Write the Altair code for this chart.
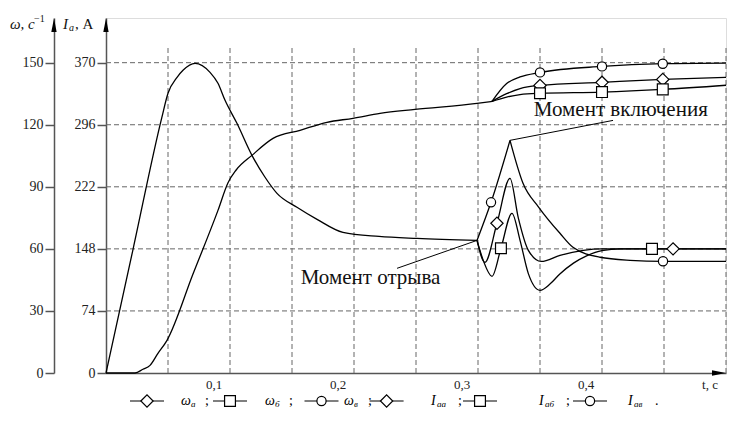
import altair as alt
import pandas as pd

# ---------------- axes ----------------
X_MAX = 0.5
W_MAX = 171.6
I_PER_W = 370 / 150
I_MAX = W_MAX * I_PER_W
GRID_TOP = 157.4

X_GRID = [0.05, 0.10, 0.15, 0.20, 0.25, 0.30, 0.35, 0.40, 0.45, 0.50]
X_TICKS = [0.1, 0.2, 0.3, 0.4, 0.5]
X_LABELS = ["0,1", "0,2", "0,3", "0,4", "t, с"]
W_TICKS = [0, 30, 60, 90, 120, 150]
I_TICKS = [0, 74, 148, 222, 296, 370]

# ---------------- speed ω, 1/s ----------------
T_W0 = [0, 0.0234, 0.0298, 0.0355, 0.0419, 0.0492, 0.07, 0.0903, 0.0984, 0.1048,
        0.1177, 0.1347, 0.1565, 0.1782, 0.1992, 0.221, 0.2492, 0.2992, 0.3113]
W0 = [0, 0, 1.8, 3.7, 9.5, 15.8, 47.6, 78.6, 92, 98,
      105.2, 113.4, 117.3, 121.2, 123.1, 125.5, 127.4, 130.3, 131.3]

T_WB = [0.3113, 0.3231, 0.3339, 0.35, 0.4, 0.449, 0.5]
W_A = [131.3, 135.0, 137.5, 139.0, 140.5, 141.9, 142.9]   # diamond
W_B = [131.3, 133.4, 134.6, 135.2, 135.8, 137.1, 139.1]   # square
W_V = [131.3, 139.9, 143.1, 145.3, 148.2, 149.5, 149.8]   # circle
T_W_MARK = [0.35, 0.4, 0.449]
W_A_MARK = [139.0, 140.5, 141.9]
W_B_MARK = [135.2, 135.8, 137.1]
W_V_MARK = [145.3, 148.2, 149.5]

# ---------------- current I, A ----------------
T_I0 = [0, 0.0218, 0.045, 0.05, 0.0573, 0.0621, 0.0718, 0.0839, 0.0903, 0.096,
        0.1056, 0.1177, 0.128, 0.1379, 0.154, 0.1702, 0.1911, 0.2202, 0.2508, 0.2992]
I0 = [0, 147.5, 304.5, 333.5, 352.5, 360.9, 369.2, 358.5, 345.4, 325.1,
      297.7, 259.5, 234, 214.2, 197.6, 183.2, 167.7, 162.9, 160.5, 158.1]

T_IA = [0.2992, 0.3056, 0.3153, 0.3258, 0.3325, 0.3406, 0.351, 0.3661, 0.385, 0.4, 0.5]
I_A = [158.1, 131.9, 178.5, 232.1, 185, 146.3, 133, 140.3, 146.3, 148, 148]   # diamond

T_IB = [0.2992, 0.3043, 0.3113, 0.3185, 0.3274, 0.3339, 0.3406, 0.35, 0.358, 0.366,
        0.377, 0.388, 0.4, 0.415, 0.5]
I_B = [158.1, 134, 115.3, 148.7, 190.4, 158.2, 118.5, 98.6, 106, 118,
       131, 140, 146, 148, 148]                                              # square

T_IV = [0.2992, 0.3105, 0.3258, 0.3363, 0.349, 0.3661, 0.3766, 0.3984, 0.4226, 0.4492, 0.5]
I_V = [158.1, 203.5, 277.4, 226.2, 197.6, 166.6, 149.9, 138, 134.4, 133.2, 133.2]  # circle

T_IA_MARK = [0.3153, 0.4573]
I_A_MARK = [178.5, 148]
T_IB_MARK = [0.3185, 0.4403]
I_B_MARK = [148.7, 148]
T_IV_MARK = [0.3105, 0.4492]
I_V_MARK = [203.5, 133.2]

# ---------------- text ----------------
ANN_TEXT = ["Момент включения", "Момент отрыва"]
LEG_MAIN = ["ω", "ω", "ω", "I", "I", "I"]
LEG_SUB = ["а", "б", "в", "аа", "аб", "ав"]
LEG_END = [";", ";", ";", ";", ";", "."]
LEG_KIND = ["а", "б", "в", "а", "б", "в"]

KINDS = ["а", "б", "в"]
SHAPES = ["diamond", "square", "circle"]
SIZES = [150, 85, 100]

FONT = "Liberation Serif"
AX = "#555555"

# ---------------- tables ----------------
def seg(t, v, name):
    return pd.DataFrame({"t": t, "v": v, "s": name})

w_lines = pd.concat([seg(T_W0, W0, "w0"), seg(T_WB, W_A, "wa"),
                     seg(T_WB, W_B, "wb"), seg(T_WB, W_V, "wv")])
kpk = I_V.index(max(I_V))
i_lines = pd.concat([seg(T_I0, I0, "i0"), seg(T_IA, I_A, "ia"), seg(T_IB, I_B, "ib"),
                     seg(T_IV[:kpk + 1], I_V[:kpk + 1], "iv1"),
                     seg(T_IV[kpk:], I_V[kpk:], "iv2")])

w_marks = pd.concat([pd.DataFrame({"t": T_W_MARK, "v": m, "k": k})
                     for m, k in zip([W_A_MARK, W_B_MARK, W_V_MARK], KINDS)])
i_marks = pd.concat([pd.DataFrame({"t": t, "v": m, "k": k})
                     for t, m, k in zip([T_IA_MARK, T_IB_MARK, T_IV_MARK],
                                        [I_A_MARK, I_B_MARK, I_V_MARK], KINDS)])

xs = alt.Scale(domain=[0, X_MAX], nice=False, zero=False)
ws = alt.Scale(domain=[0, W_MAX], nice=False, zero=False)
iss = alt.Scale(domain=[0, I_MAX], nice=False, zero=False)
shape_sc = alt.Scale(domain=KINDS, range=SHAPES)
size_sc = alt.Scale(domain=KINDS, range=SIZES)

x_axis = alt.Axis(values=X_TICKS, labels=False, grid=False, ticks=False,
                  domainColor=AX, domainWidth=1.5, title=None)

def y_axis(values, offset):
    return alt.Axis(orient="left", offset=offset, values=values, grid=False, tickSize=9,
                    tickColor=AX, tickWidth=1.5, domainColor=AX, domainWidth=1.5,
                    labelFont=FONT, labelFontSize=14, labelColor="#222", labelPadding=2,
                    title=None, labelFlush=False)

# vertical grid (carries the x axis)
vgrid = alt.Chart(pd.DataFrame({"t": X_GRID, "y0": 0, "y1": GRID_TOP})).mark_rule(
    color="#666", strokeDash=[5, 3], strokeWidth=1).encode(
    x=alt.X("t:Q", scale=xs, axis=x_axis),
    y=alt.Y("y0:Q", scale=ws, axis=None), y2="y1:Q")

# x tick labels
x_lab = alt.Chart(pd.DataFrame({"t": X_TICKS, "lab": X_LABELS})).mark_text(
    font=FONT, fontSize=13, color="#222", align="center", baseline="middle", dx=-16).encode(
    x=alt.X("t:Q", scale=xs), y=alt.value(367), text="lab:N")

# horizontal grid (carries the ω axis)
hgrid = alt.Chart(pd.DataFrame({"w": W_TICKS[1:], "t0": 0, "t1": X_MAX})).mark_rule(
    color="#666", strokeDash=[5, 3], strokeWidth=1).encode(
    x=alt.X("t0:Q", scale=xs), x2="t1:Q",
    y=alt.Y("w:Q", scale=ws, axis=y_axis(W_TICKS, 52)))

# I axis
i_axis_layer = alt.Chart(pd.DataFrame({"i": I_TICKS})).mark_point(opacity=0).encode(
    x=alt.value(0),
    y=alt.Y("i:Q", scale=iss, axis=y_axis(I_TICKS, 0)))

w_line = alt.Chart(w_lines).mark_line(color="black", strokeWidth=1.3,
                                      interpolate="monotone").encode(
    x=alt.X("t:Q", scale=xs), y=alt.Y("v:Q", scale=ws, axis=None), detail="s:N")
i_line = alt.Chart(i_lines).mark_line(color="black", strokeWidth=1.3,
                                      interpolate="monotone").encode(
    x=alt.X("t:Q", scale=xs), y=alt.Y("v:Q", scale=iss, axis=None), detail="s:N")

pt = dict(filled=True, fill="white", stroke="black", strokeWidth=1.2, opacity=1)
w_pts = alt.Chart(w_marks).mark_point(**pt).encode(
    x=alt.X("t:Q", scale=xs), y=alt.Y("v:Q", scale=ws, axis=None),
    shape=alt.Shape("k:N", scale=shape_sc, legend=None),
    size=alt.Size("k:N", scale=size_sc, legend=None))
i_pts = alt.Chart(i_marks).mark_point(**pt).encode(
    x=alt.X("t:Q", scale=xs), y=alt.Y("v:Q", scale=iss, axis=None),
    shape=alt.Shape("k:N", scale=shape_sc, legend=None),
    size=alt.Size("k:N", scale=size_sc, legend=None))

# annotations (ω units)
peak_t, peak_w = T_IV[kpk], I_V[kpk] / I_PER_W
kink_t, kink_w = T_I0[-1], I0[-1] / I_PER_W
ann_lines = pd.DataFrame({"t": [0.4089, 0.2347], "w": [122.1, 50.6],
                          "t2": [peak_t, kink_t], "w2": [peak_w, kink_w]})
ann_l = alt.Chart(ann_lines).mark_rule(color="black", strokeWidth=1).encode(
    x=alt.X("t:Q", scale=xs), x2="t2:Q", y=alt.Y("w:Q", scale=ws, axis=None), y2="w2:Q")
ann_txt = alt.Chart(pd.DataFrame({"t": [0.345, 0.157], "w": [127, 45.8],
                                  "txt": ANN_TEXT})).mark_text(
    font=FONT, fontSize=21, align="left", baseline="middle", color="#111").encode(
    x=alt.X("t:Q", scale=xs), y=alt.Y("w:Q", scale=ws, axis=None), text="txt:N")

# legend (pixel layout relative to the plot)
LEG_Y = 383
mk_x = [41, 124, 215.5, 280.6, 374, 484]
lb_x = [75, 159, 238, 325, 433, 522]
leg = pd.DataFrame({"mx": mk_x, "lx": lb_x, "main": LEG_MAIN, "sub": LEG_SUB,
                    "end": LEG_END, "k": LEG_KIND})
leg["x1"] = leg["mx"] - 17
leg["x2"] = leg["mx"] + 17
leg["sx"] = leg["lx"] + [10 if m == "ω" else 6 for m in LEG_MAIN]
leg["ex"] = leg["lx"] + [24 if m == "ω" else 27 for m in LEG_MAIN]
lb = alt.Chart(leg)
leg_rule = lb.mark_rule(color="black", strokeWidth=1.2).encode(
    x=alt.X("x1:Q", scale=None), x2="x2:Q", y=alt.value(LEG_Y))
leg_pt = lb.mark_point(**pt).encode(
    x=alt.X("mx:Q", scale=None), y=alt.value(LEG_Y),
    shape=alt.Shape("k:N", scale=shape_sc, legend=None),
    size=alt.Size("k:N", scale=size_sc, legend=None))
leg_main = lb.mark_text(font=FONT, fontSize=14, fontStyle="italic", align="left",
                        baseline="middle").encode(
    x=alt.X("lx:Q", scale=None), y=alt.value(LEG_Y), text="main:N")
leg_sub = lb.mark_text(font=FONT, fontSize=9, fontStyle="italic", align="left",
                       baseline="middle").encode(
    x=alt.X("sx:Q", scale=None), y=alt.value(LEG_Y + 3), text="sub:N")
leg_end = lb.mark_text(font=FONT, fontSize=14, align="left", baseline="middle").encode(
    x=alt.X("ex:Q", scale=None), y=alt.value(LEG_Y), text="end:N")

# axis titles (pixel layout)
TITLE_PARTS = [("ω, с", -96, 6, 15, "italic"), ("−1", -72, 1, 10, "normal"),
               ("I", -43, 6, 15, "italic"), ("а", -37, 10, 10, "italic"),
               (", А", -31, 6, 15, "normal")]
title_layers = [
    alt.Chart(pd.DataFrame({"txt": [txt]})).mark_text(
        font=FONT, fontSize=fs, fontStyle=st, align="left", baseline="middle",
        color="#111").encode(x=alt.value(x), y=alt.value(y), text="txt:N")
    for txt, x, y, fs, st in TITLE_PARTS]

UP = "M0,-1L0.38,1L-0.38,1Z"
RIGHT = "M1,0L-1,-0.38L-1,0.38Z"
arrows = alt.Chart(pd.DataFrame({"x": [-52, 0, 613], "y": [7, 7, 355],
                                 "p": [UP, UP, RIGHT]})).mark_point(
    filled=True, color="black", opacity=1, size=196).encode(
    x=alt.X("x:Q", scale=None), y=alt.Y("y:Q", scale=None),
    shape=alt.Shape("p:N", scale=None, legend=None))

chart = alt.layer(
    vgrid, hgrid, i_axis_layer, w_line, i_line, ann_l, w_pts, i_pts, ann_txt, x_lab,
    leg_rule, leg_pt, leg_main, leg_sub, leg_end, *title_layers, arrows
).resolve_scale(y="independent").properties(
    width=620, height=355,
    autosize=alt.AutoSizeParams(type="none"),
    padding={"left": 98, "top": 10, "right": 2, "bottom": 39},
).configure_view(stroke=None).configure(font=FONT)

chart.save("out.html", embed_options={"renderer": "svg", "actions": False})
